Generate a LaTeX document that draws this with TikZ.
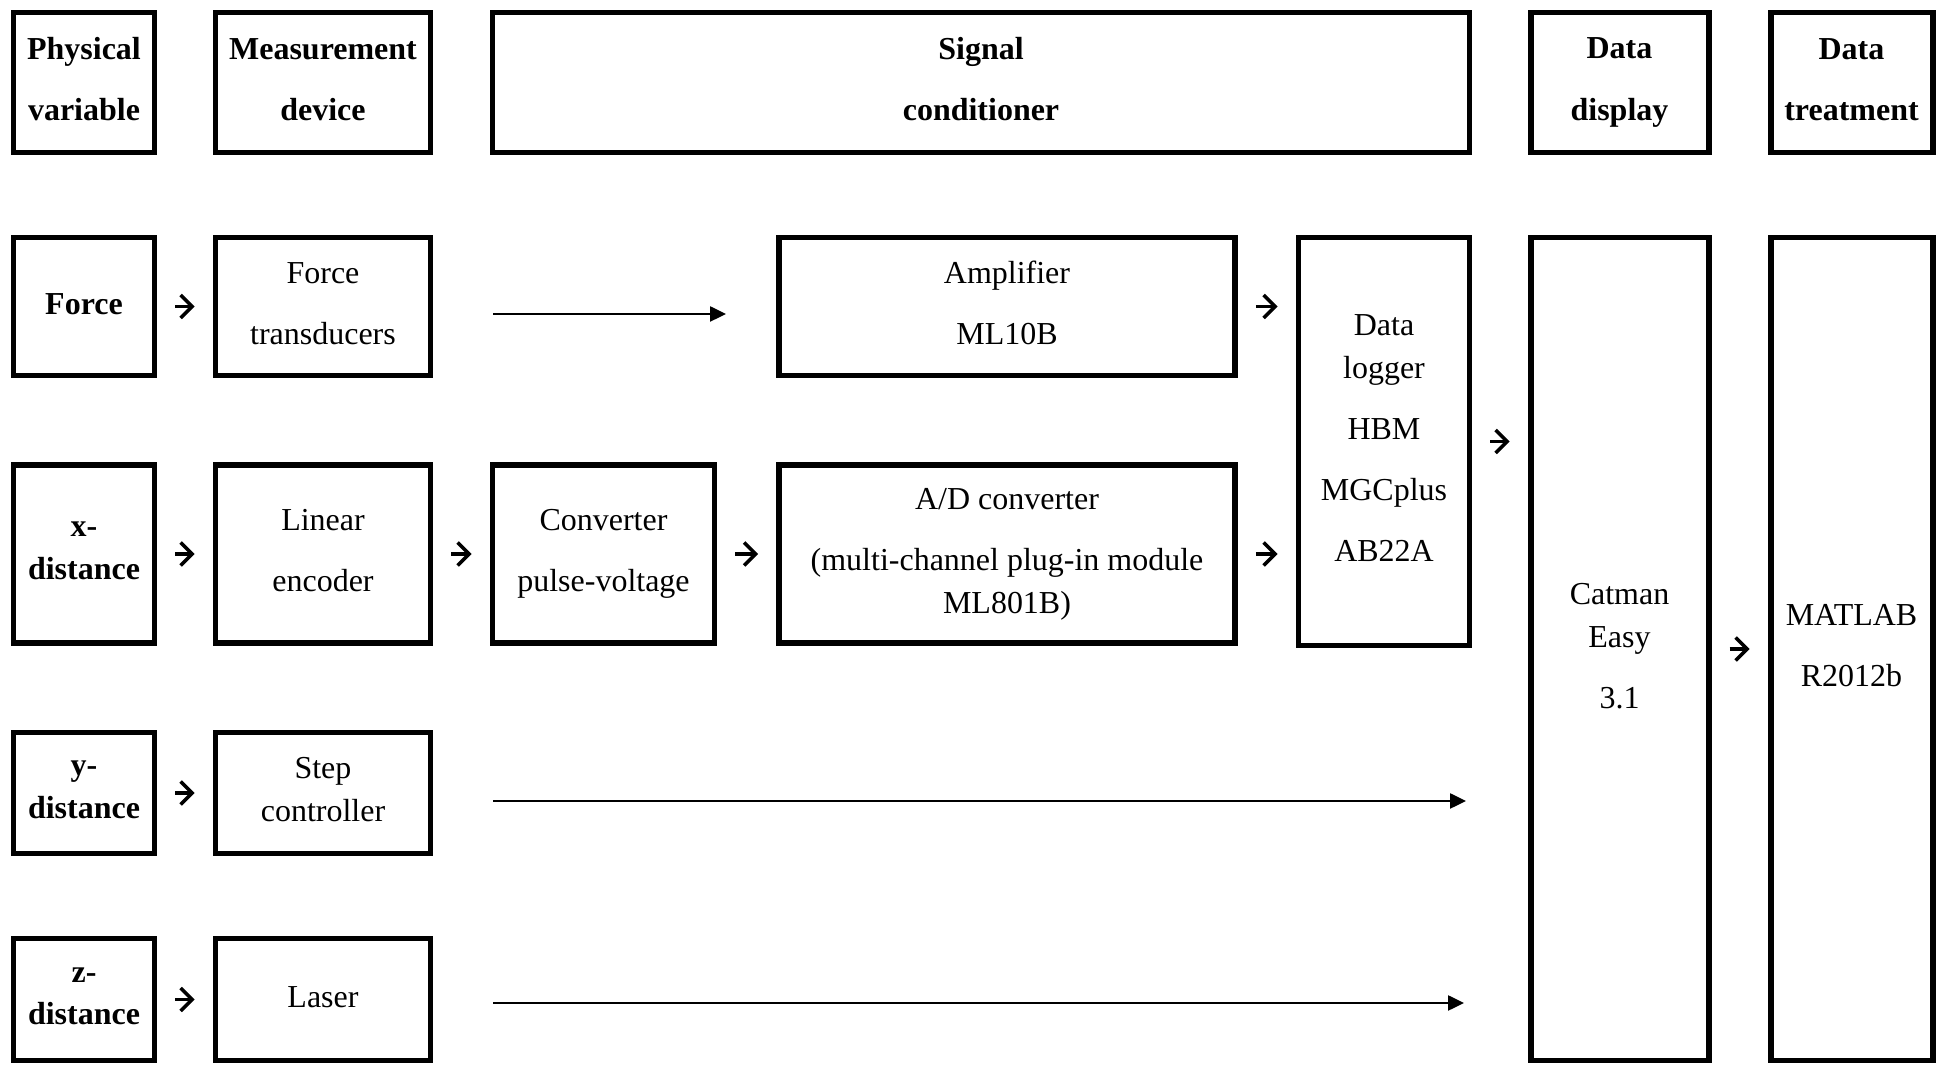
\documentclass[tikz,border=0pt]{standalone}
\usepackage{fontspec}
\setmainfont{Liberation Serif}
\usetikzlibrary{arrows.meta}

% tighter line break for wrapped lines inside one box
\newcommand{\wrapline}{\\[-5.2pt]}
% same height/depth for first and last line of every box
\newcommand{\lnstrut}{\vrule width 0pt height 6.6pt depth 1.9pt}

\begin{document}
\begin{tikzpicture}[
  font=\fontsize{9.1}{17.4}\selectfont,
  blk/.style={draw, line width=1.7pt, align=center, inner sep=0pt,
    execute at begin node=\lnstrut, execute at end node=\lnstrut},
  hblk/.style={blk, font=\fontsize{9.1}{17.4}\selectfont\bfseries},
  arr/.style={line width=1pt, -{Straight Barb[length=1.15mm,width=2.3mm]},
    shorten <=0.18cm, shorten >=0.18cm},
  longarr/.style={line width=0.7pt, -{Triangle[length=1.6mm,width=1.5mm]}}
]

\useasboundingbox (0,0) rectangle (19.39,10.65);

%======================
% HEADER ROW
%======================

\node[hblk, minimum width=1.41cm, minimum height=1.40cm] (hphys) at (0.84,9.825) {Physical\\variable};
\node[hblk, minimum width=2.15cm, minimum height=1.40cm] (hmeas) at (3.23,9.825) {Measurement\\device};
\node[hblk, minimum width=9.77cm, minimum height=1.40cm] (hsig) at (9.81,9.825) {Signal\\conditioner};
\node[hblk, minimum width=1.78cm, minimum height=1.40cm] (hdisp) at (16.195,9.825) {Data\\display};
\node[hblk, minimum width=1.62cm, minimum height=1.40cm] (htreat) at (18.515,9.825) {Data\\treatment};

%======================
% FORCE ROW
%======================

\node[hblk, minimum width=1.41cm, minimum height=1.38cm] (force) at (0.84,7.585) {Force};
\node[blk, minimum width=2.15cm, minimum height=1.38cm] (forcetr) at (3.23,7.585) {Force\\transducers};
\node[blk, minimum width=4.56cm, minimum height=1.38cm] (amp) at (10.07,7.585) {Amplifier\\ML10B};

%======================
% X-DISTANCE ROW
%======================

\node[hblk, minimum width=1.41cm, minimum height=1.78cm] (xdist) at (0.84,5.11) {x-\wrapline distance};
\node[blk, minimum width=2.15cm, minimum height=1.78cm] (linenc) at (3.23,5.11) {Linear\\encoder};
\node[blk, minimum width=2.22cm, minimum height=1.78cm] (conv) at (6.035,5.11) {Converter\\pulse-voltage};
\node[blk, minimum width=4.56cm, minimum height=1.78cm] (adc) at (10.07,5.11)
  {A/D converter\\(multi-channel plug-in module\wrapline ML801B)};

%======================
% Y / Z-DISTANCE ROWS
%======================

\node[hblk, minimum width=1.41cm, minimum height=1.21cm] (ydist) at (0.84,2.72) {y-\wrapline distance};
\node[blk, minimum width=2.15cm, minimum height=1.21cm] (stepctl) at (3.23,2.72) {Step\wrapline controller};

\node[hblk, minimum width=1.41cm, minimum height=1.22cm] (zdist) at (0.84,0.655) {z-\wrapline distance};
\node[blk, minimum width=2.15cm, minimum height=1.22cm] (laser) at (3.23,0.655) {Laser};

%======================
% LOGGER, DISPLAY, TREATMENT
%======================

\node[blk, minimum width=1.71cm, minimum height=4.08cm] (logger) at (13.84,6.235)
  {Data\wrapline logger\\HBM\\MGCplus\\AB22A};
\node[blk, minimum width=1.78cm, minimum height=8.23cm] (catman) at (16.195,4.16) {Catman\wrapline Easy\\3.1};
\node[blk, minimum width=1.62cm, minimum height=8.23cm] (matlab) at (18.515,4.16) {MATLAB\\R2012b};

%======================
% SHORT ARROWS
%======================

\draw[arr] (force) -- (forcetr);
\draw[arr] (xdist) -- (linenc);
\draw[arr] (ydist) -- (stepctl);
\draw[arr] (zdist) -- (laser);
\draw[arr] (linenc) -- (conv);
\draw[arr] (conv) -- (adc);
\draw[arr] (amp.east) -- (amp.east -| logger.west);
\draw[arr] (adc.east) -- (adc.east -| logger.west);
\draw[arr] (logger.east) -- (logger.east -| catman.west);
\draw[arr] (catman) -- (matlab);

%======================
% LONG ARROWS
%======================

\draw[longarr, shorten <=0.6cm, shorten >=0.5cm]
  ([yshift=-0.075cm]forcetr.east) -- ([yshift=-0.075cm]forcetr.east -| amp.west);
\draw[longarr, shorten <=0.6cm, shorten >=0.615cm]
  ([yshift=-0.08cm]stepctl.east) -- ([yshift=-0.08cm]stepctl.east -| catman.west);
\draw[longarr, shorten <=0.6cm, shorten >=0.635cm]
  ([yshift=-0.035cm]laser.east) -- ([yshift=-0.035cm]laser.east -| catman.west);

\end{tikzpicture}
\end{document}
